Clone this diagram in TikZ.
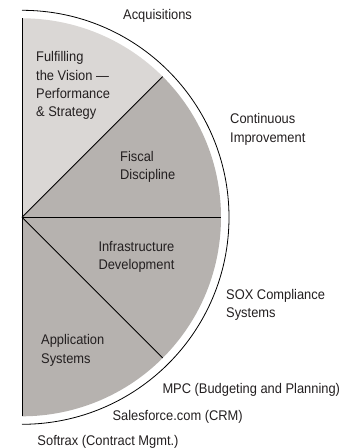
\documentclass[tikz,border=0pt]{standalone}
\usepackage{fontspec}
\usetikzlibrary{calc}
\setmainfont{Liberation Sans}[FakeStretch=0.92]
\definecolor{lightg}{HTML}{DAD7D5}
\definecolor{midg}{HTML}{B6B2AF}
\definecolor{txt}{HTML}{231F20}
\begin{document}
\begin{tikzpicture}[x=1pt,y=1pt,
  lbl/.style={anchor=base west,inner sep=0pt,align=left,text=txt,
    font=\fontsize{14}{18.3}\selectfont},
  sep/.style={draw=black,line width=0.8pt}]
\useasboundingbox (0,0) rectangle (345,448);
\coordinate (C) at (22,230.7);
\coordinate (top) at ($(C)+(90:199)$);
\coordinate (bot) at ($(C)+(-90:199)$);
\coordinate (d1) at ($(C)+(45:199)$);
\coordinate (d2) at ($(C)+(0:199)$);
\coordinate (d3) at ($(C)+(-45:199)$);
\coordinate (otop) at ($(C)+(90:207)$);
% sectors
\fill[lightg] (C) -- (top) arc[start angle=90,end angle=45,radius=199] -- cycle;
\fill[midg] (C) -- (d1) arc[start angle=45,end angle=-90,radius=199] -- cycle;
% separators
\draw[sep] (top) -- (bot);
\draw[sep] (C) -- (d1);
\draw[sep] (C) -- (d2);
\draw[sep] (C) -- (d3);
% outer arc
\draw[line width=0.8pt] (otop) arc[start angle=90,end angle=-90,radius=207];
% labels (base anchor = baseline of the last line)
\node[lbl] (acq) at (123,428) {Acquisitions};
\node[lbl] (ful) at (36,331.3) {Fulfilling\\the Vision —\\Performance\\\& Strategy};
\node[lbl] (cont) at (230,305.7) {Continuous\\Improvement};
\node[lbl] (fis) at (120,268) {Fiscal\\Discipline};
\node[lbl] (inf) at (98.3,178.3) {Infrastructure\\Development};
\node[lbl] (sox) at (226,130.5) {SOX Compliance\\Systems};
\node[lbl] (app) at (41,85) {Application\\Systems};
\node[lbl] (mpc) at (162.3,54.7) {MPC (Budgeting and Planning)};
\node[lbl] (sf) at (112.3,27.3) {Salesforce.com (CRM)};
\node[lbl] (soft) at (37.3,2) {Softrax (Contract Mgmt.)};
\end{tikzpicture}
\end{document}
